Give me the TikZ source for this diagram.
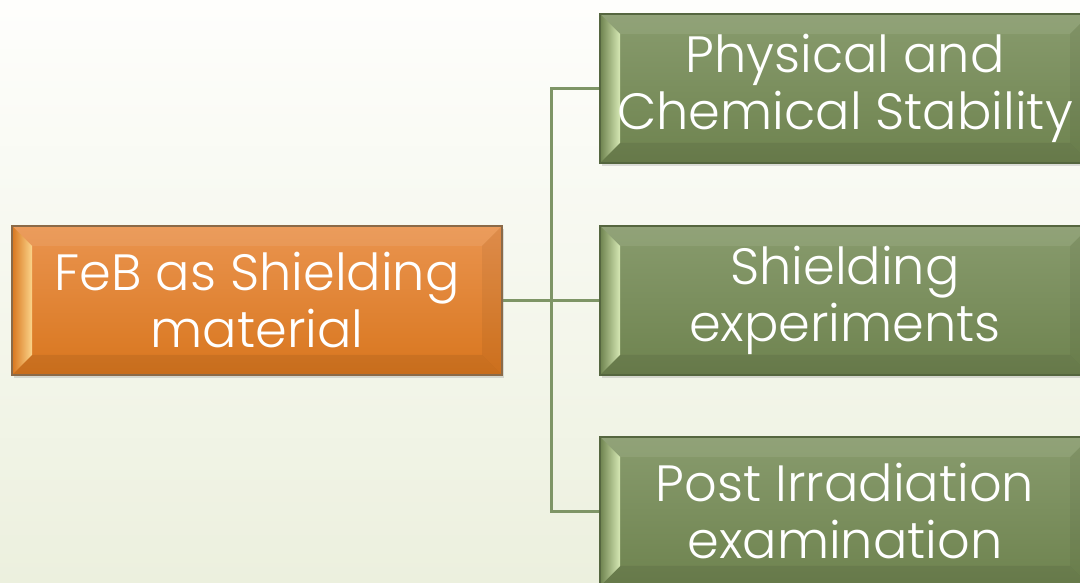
\documentclass[tikz,border=0pt]{standalone}
\usepackage{fontspec}
\setmainfont{Poppins Light}
\usetikzlibrary{shadows,backgrounds}
\definecolor{orT}{HTML}{EA944F}
\definecolor{orB}{HTML}{D8761E}
\definecolor{orL}{HTML}{FBD48A}
\definecolor{orD}{HTML}{8A6A48}
\definecolor{grT}{HTML}{889B6D}
\definecolor{grB}{HTML}{6E834F}
\definecolor{grL}{HTML}{D6E8B4}
\definecolor{grD}{HTML}{55663F}
\definecolor{conn}{HTML}{7E9566}
\definecolor{bgT}{HTML}{FEFEFC}
\definecolor{bgB}{HTML}{ECF0DE}
\tikzset{
  bev/.style 2 args={path picture={
    \def\bv{20pt}
    \path (path picture bounding box.north west) coordinate (pnw)
          (path picture bounding box.south east) coordinate (pse);
    \path (pnw |- pse) coordinate (psw) (pse |- pnw) coordinate (pne);
    \fill[white,opacity=0.08] (pnw) -- (pne) -- ([shift={(-\bv,-\bv)}]pne) -- ([shift={(\bv,-\bv)}]pnw) -- cycle;
    \fill[black,opacity=0.07] (psw) -- (pse) -- ([shift={(-\bv,\bv)}]pse) -- ([shift={(\bv,\bv)}]psw) -- cycle;
    \fill[black,opacity=0.05] (pne) -- (pse) -- ([shift={(-\bv,\bv)}]pse) -- ([shift={(-\bv,-\bv)}]pne) -- cycle;
    \shade[left color=#1, right color=#2] (pnw) -- ([shift={(\bv,-\bv)}]pnw) -- ([shift={(\bv,\bv)}]psw) -- (psw) -- cycle;
  }},
  boxbase/.style={minimum width=490pt, minimum height=149pt, inner sep=0pt,
    align=center, text=white, line width=1.6pt,
    font=\fontsize{51}{57}\selectfont,
    drop shadow={shadow xshift=2pt, shadow yshift=-3pt, opacity=0.25}},
  orbox/.style={boxbase, draw=orD, top color=orT, bottom color=orB, bev={orB}{orL}},
  grbox/.style={boxbase, draw=grD, top color=grT, bottom color=grB, bev={grB}{grL}},
  link/.style={draw=conn, line width=3pt, line join=miter}
}
\begin{document}
\begin{tikzpicture}[x=1pt,y=1pt]
\useasboundingbox (0,0) rectangle (1080,583);
\clip (0,0) rectangle (1080,583);
\node[orbox] (feb) at (257,282.5) {FeB as Shielding\\material};
\node[grbox] (phys) at (845,494.5) {Physical and\\Chemical Stability};
\node[grbox] (shield) at (845,282.5) {Shielding\\experiments};
\node[grbox] (post) at (845,71.5) {Post Irradiation\\examination};
\coordinate (j) at (551,282.5);
\begin{pgfonlayer}{background}
\shade[top color=bgT, bottom color=bgB] (0,0) rectangle (1080,583);
\path[link] (feb.east) -- (j);
\path[link] (phys.west) -| (j);
\path[link] (post.west) -| (j);
\path[link] (j) -- (shield.west);
\end{pgfonlayer}
\end{tikzpicture}
\end{document}
